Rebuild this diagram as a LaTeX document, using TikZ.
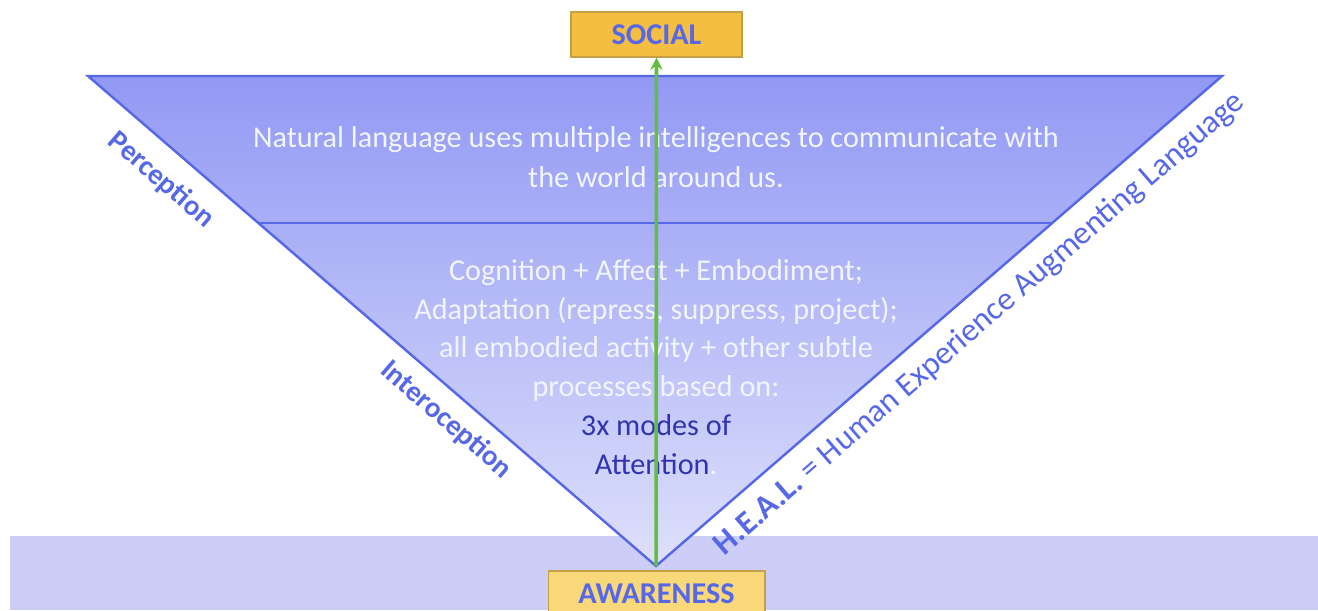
\documentclass[tikz,border=0pt]{standalone}
\usepackage{fontspec}
\setmainfont{Carlito}
\usetikzlibrary{arrows.meta, positioning}

\definecolor{edgeblue}{RGB}{86,104,232}
\definecolor{bandblue}{RGB}{204,206,248}
\definecolor{topblue}{RGB}{146,153,244}
\definecolor{lowblue}{RGB}{222,224,251}
\definecolor{boxorange}{RGB}{243,190,66}
\definecolor{boxyellow}{RGB}{249,216,122}
\definecolor{boxedge}{RGB}{196,160,70}
\definecolor{arrowgreen}{RGB}{98,190,62}
\definecolor{deepblue}{RGB}{48,52,178}
\definecolor{paletext}{RGB}{242,244,255}

\tikzset{
    edge/.style={draw=edgeblue, line width=1.4pt, line join=miter},
    tagbox/.style={draw=boxedge, line width=0.6pt, minimum width=3.42cm, minimum height=0.9cm,
        font=\fontsize{17.2}{19}\selectfont\bfseries, text=edgeblue, inner sep=0pt},
    bodytext/.style={align=center, text=paletext, inner sep=0pt},
    sidelabel/.style={text=edgeblue, inner sep=0pt, font=\fontsize{16.5}{18}\selectfont\bfseries},
}

\begin{document}
\begin{tikzpicture}[x=0.02cm, y=-0.02cm, >={Stealth[length=7pt, width=7pt]}]
    \useasboundingbox (0,0) rectangle (1318,610);

    % corners of the triangle and the dividing line
    \coordinate (TL) at (88,76);
    \coordinate (TR) at (1222,76);
    \coordinate (V) at (656,566);
    \coordinate (ML) at (258.4,223);
    \coordinate (MR) at (1052.2,223);

    % ground band
    \fill[bandblue] (10,536) rectangle (1318,610);

    % shaded triangle
    \shade[top color=topblue, bottom color=lowblue] (TL) -- (TR) -- (V) -- cycle;
    \draw[edge] (TL) -- (TR) -- (V) -- cycle;
    \draw[edge] (ML) -- (MR);

    % the two boxes
    \node[tagbox, fill=boxorange] (social) at (656.5,34.5) {SOCIAL};
    \node[tagbox, fill=boxyellow, minimum width=4.34cm] (awareness) at (656.5,593.5) {AWARENESS};

    % text inside the triangle
    \node[bodytext, font=\fontsize{17.2}{22.7}\selectfont] (natural) at (656,157)
        {Natural language uses multiple intelligences to communicate with\\the world around us.};
    \node[bodytext, font=\fontsize{17.2}{22.1}\selectfont] (process) at (656,367)
        {Cognition + Affect + Embodiment;\\
         Adaptation (repress, suppress, project);\\
         all embodied activity + other subtle\\
         processes based on:\\
         \textcolor{deepblue}{3x modes of}\\
         \textcolor{deepblue}{Attention}.};

    % arrow from awareness up to social
    \draw[->, arrowgreen, line width=2pt] (V) -- (social.south);

    % labels along the sides
    \node[sidelabel, rotate=-40.8] (perception) at (161,180) {Perception};
    \node[sidelabel, rotate=-40.8] (interoception) at (446,420) {Interoception};
    \node[sidelabel, rotate=40.9, font=\fontsize{18.6}{20}\selectfont] (heal) at (980,324)
        {\textbf{H.E.A.L.} = Human Experience Augmenting Language};
\end{tikzpicture}
\end{document}
